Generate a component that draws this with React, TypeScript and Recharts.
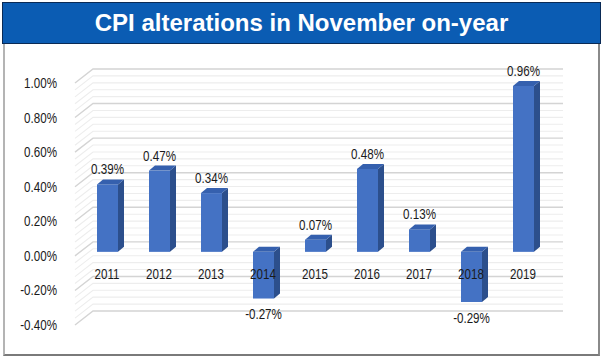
import React from "react";
import { BarChart, Bar, XAxis, YAxis, ReferenceLine, LabelList } from "recharts";

const years = ["2011", "2012", "2013", "2014", "2015", "2016", "2017", "2018", "2019"];
const cpiChange = [0.39, 0.47, 0.34, -0.27, 0.07, 0.48, 0.13, -0.29, 0.96];
const yTicks = [-0.4, -0.2, 0, 0.2, 0.4, 0.6, 0.8, 1.0];
const gridStep = 0.04;

const data = years.map((year, i) => ({ year, value: cpiChange[i] }));

const gridValues: number[] = [];
for (let i = 0; i <= Math.round((1.0 - -0.4) / gridStep); i++) {
  gridValues.push(Math.round((-0.4 + i * gridStep) * 100) / 100);
}
const isMajor = (v: number) => Math.abs(Math.round(v / 0.2) * 0.2 - v) < 1e-6;

const FONT = "'Liberation Sans', Arial, sans-serif";
const LIFT = 4;
const DX = 6;
const DY = 5;

const fmt = (v: number) => `${v.toFixed(2)}%`;

const Narrow = ({ x, y, anchor, children }: any) => (
  <g transform={`translate(${x},${y}) scale(0.8,1)`}>
    <text x={0} y={0} textAnchor={anchor} dominantBaseline="central" fontFamily={FONT} fontSize={14.5} fill="#1a1a1a">
      {children}
    </text>
  </g>
);

const Bar3D = (props: any) => {
  const { x, y, width, height } = props;
  const top = Math.min(y, y + height) - LIFT;
  const h = Math.abs(height);
  const w = width;
  return (
    <g>
      <rect x={x} y={top} width={w} height={h} fill="#4472C4" />
      <polygon
        points={`${x + w},${top} ${x + w + DX},${top - DY} ${x + w + DX},${top + h - DY} ${x + w},${top + h}`}
        fill="#2C4F8C"
      />
      <polygon
        points={`${x},${top} ${x + DX},${top - DY} ${x + w + DX},${top - DY} ${x + w},${top}`}
        fill="#3560AE"
      />
    </g>
  );
};

const ValueLabel = (props: any) => {
  const { x, y, width, height, value } = props;
  const top = Math.min(y, y + height) - LIFT;
  const bottom = Math.max(y, y + height) - LIFT;
  const cx = x + width / 2;
  const ty = value >= 0 ? top - 15 : bottom + 16;
  return (
    <Narrow x={cx} y={ty} anchor="middle">
      {fmt(value)}
    </Narrow>
  );
};

const YTick = (props: any) => {
  const { x, y, payload } = props;
  return (
    <Narrow x={x} y={y} anchor="end">
      {fmt(payload.value)}
    </Narrow>
  );
};

const XTick = (props: any) => {
  const { x, y, payload } = props;
  return (
    <Narrow x={x} y={y - 51} anchor="middle">
      {payload.value}
    </Narrow>
  );
};

const GridShape = (major: boolean) => (p: any) => {
  const { x1, y1, x2 } = p;
  if (x1 == null || y1 == null) return null;
  return (
    <path
      d={`M${x1 - 6},${y1} L${x1 + 12},${y1 - 14} L${x2 + 14},${y1 - 14}`}
      fill="none"
      stroke={major ? "#d4d4d4" : "#ededed"}
      strokeWidth={major ? 1.4 : 1.1}
    />
  );
};

export default function App() {
  return (
    <div style={{ position: "absolute", left: 0, top: 0, width: 603, height: 359, background: "#fff", overflow: "hidden" }}>
      <div
        style={{
          position: "absolute",
          left: 3,
          top: 43,
          width: 597,
          height: 313,
          boxSizing: "border-box",
          borderLeft: "2px solid #b4b4b4",
          borderRight: "2px solid #8a8a8a",
          borderBottom: "2px solid #7a7a7a",
        }}
      />
      <div
        style={{
          position: "absolute",
          left: 2,
          top: 2,
          width: 599,
          height: 42,
          boxSizing: "border-box",
          background: "#0B5CB3",
          border: "1.5px solid #0A2A55",
          color: "#fff",
          fontFamily: "'Liberation Sans', Arial, sans-serif",
          fontWeight: "bold",
          fontSize: 24,
          lineHeight: "39px",
          textAlign: "center",
        }}
      >
        CPI alterations in November on-year
      </div>
      <div style={{ position: "absolute", left: 0, top: 0 }}>
        <BarChart width={603} height={359} data={data} margin={{ top: 83, right: 54, bottom: 4, left: 21 }} barSize={21}>
          {gridValues.map((v) => (
            <ReferenceLine key={v} y={v} zIndex={0} shape={GridShape(isMajor(v))} />
          ))}
          <XAxis dataKey="year" axisLine={false} tickLine={false} tickSize={0} tickMargin={0} height={30} tick={<XTick />} interval={0} />
          <YAxis
            domain={[-0.4, 1.0]}
            ticks={yTicks}
            axisLine={false}
            tickLine={false}
            tickSize={0}
            tickMargin={24}
            width={60}
            tick={<YTick />}
            interval={0}
          />
          <Bar dataKey="value" isAnimationActive={false} shape={<Bar3D />}>
            <LabelList dataKey="value" content={<ValueLabel />} />
          </Bar>
        </BarChart>
      </div>
    </div>
  );
}
